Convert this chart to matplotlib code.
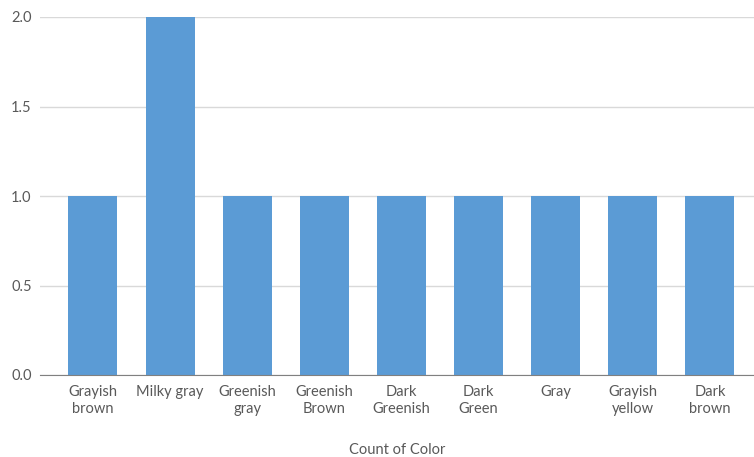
import matplotlib.pyplot as plt

colors = ["Grayish\nbrown", "Milky gray", "Greenish\ngray", "Greenish\nBrown",
          "Dark\nGreenish", "Dark\nGreen", "Gray", "Grayish\nyellow", "Dark\nbrown"]
counts = [1, 2, 1, 1, 1, 1, 1, 1, 1]
yticks = [0.0, 0.5, 1.0, 1.5, 2.0]

plt.rcParams['font.family'] = ['Lato', 'DejaVu Sans']

fig = plt.figure(figsize=(7.54, 4.57), dpi=100)
ax = fig.add_axes([40 / 754, 1 - 375 / 457, 1 - 40 / 754, (375 - 17) / 457])

x = range(len(colors))
ax.bar(x, counts, width=0.635, color="#5b9bd5", zorder=3)

ax.set_xlim(-0.687, 8.573)
ax.set_ylim(0, 2.0)
ax.set_yticks(yticks)
ax.set_yticklabels([f"{v:.1f}" for v in yticks], color="#595959", fontsize=10.5)
ax.set_xticks(list(x))
ax.set_xticklabels(colors, color="#595959", fontsize=10.5, linespacing=1.25)
ax.tick_params(length=0, pad=6)
ax.tick_params(axis="x", pad=7.5)

ax.grid(axis="y", color="#d9d9d9", linewidth=1, zorder=0)
for side in ["top", "right", "left"]:
    ax.spines[side].set_visible(False)
ax.spines["bottom"].set_color("#808080")
ax.spines["bottom"].set_zorder(4)

ax.set_xlabel("Count of Color", color="#595959", fontsize=10.5, labelpad=19)

fig.savefig("out.png", dpi=100)
